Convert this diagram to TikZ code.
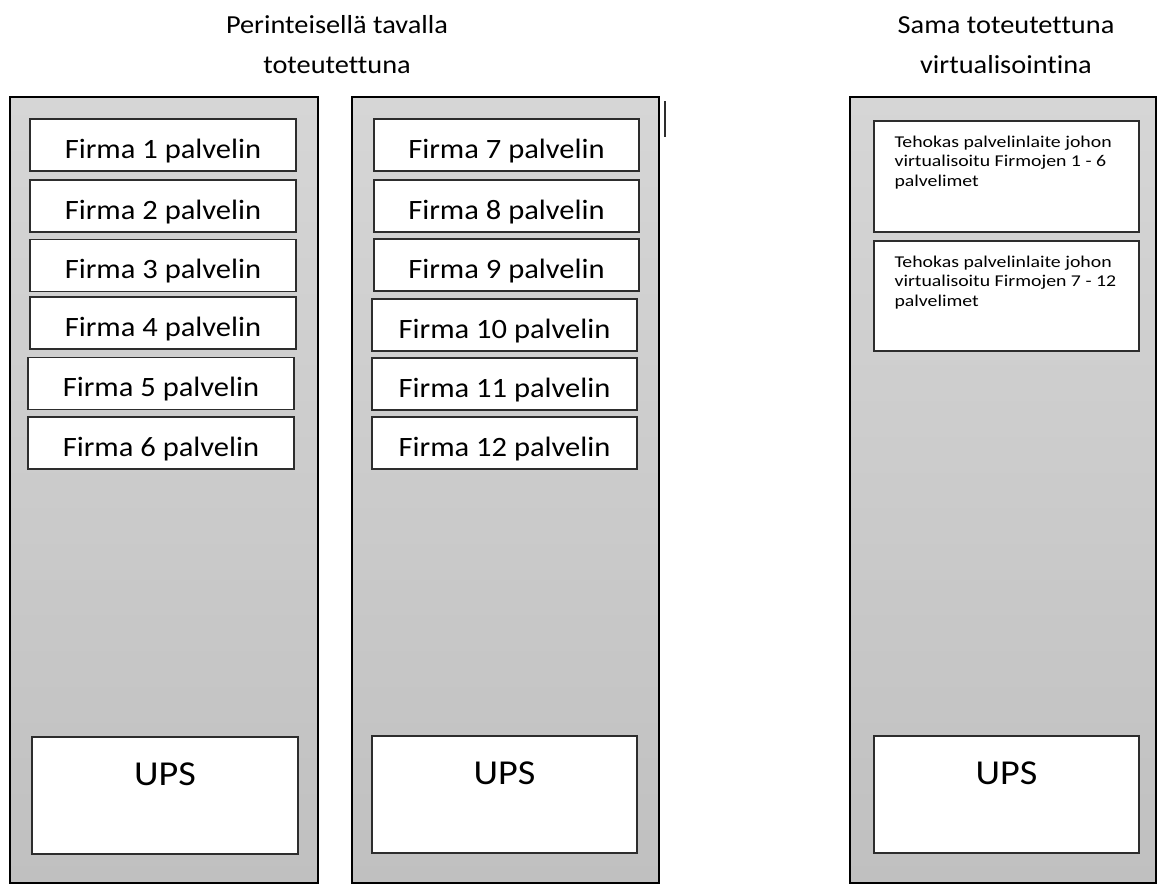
\documentclass[tikz,border=0pt]{standalone}
\usepackage{fontspec}
\setmainfont{Carlito}[FakeStretch=1.09,Ligatures=NoCommon]
\newfontfamily\widefont{Carlito}[FakeStretch=1.2,Ligatures=NoCommon]
\definecolor{racktop}{RGB}{214,214,214}
\definecolor{rackbottom}{RGB}{192,192,192}
\definecolor{boxline}{RGB}{45,45,45}

\begin{document}
\begin{tikzpicture}[x=1pt,y=-1pt,
    rack/.style={draw=black,line width=2.2pt,top color=racktop,bottom color=rackbottom,
      minimum height=786pt,inner sep=0pt},
    server/.style={draw=boxline,line width=1.3pt,fill=white,minimum height=52pt,inner sep=0pt,
      text height=26pt,text depth=0pt,font=\fontsize{28}{34}\selectfont},
    ups/.style={draw=boxline,line width=1.3pt,fill=white,minimum height=117pt,inner sep=0pt,
      text height=23pt,text depth=43pt,font=\fontsize{35}{42}\selectfont},
    vbox/.style={draw=boxline,line width=1.3pt,fill=white,minimum width=265pt,inner sep=0pt},
    vtext/.style={anchor=base west,inner sep=0pt,align=left,xshift=21pt,yshift=-66pt,
      font=\widefont\fontsize{16.5}{19.5}\selectfont},
    title/.style={anchor=base,align=center,font=\fontsize{26}{40}\selectfont}]

\useasboundingbox (0,0) rectangle (1159,884);

% titles
\node[title] (trad) at (337,73) {Perinteisellä tavalla\\toteutettuna};
\node[title] (virt) at (1006,73) {Sama toteutettuna\\virtualisointina};

% racks
\node[rack,minimum width=308pt] (rack1) at (164,490) {};
\node[rack,minimum width=307pt] (rack2) at (505.5,490) {};
\node[rack,minimum width=306pt] (rack3) at (1003,490) {};
\draw[line width=1.5pt,boxline] (665,101) -- (665,137);

% servers, first rack
\node[server,minimum width=266pt] (f1) at (163,145) {Firma 1 palvelin};
\node[server,minimum width=266pt] (f2) at (163,206) {Firma 2 palvelin};
\node[server,minimum width=266pt] (f3) at (163,265.5) {Firma 3 palvelin};
\node[server,minimum width=266pt] (f4) at (163,323) {Firma 4 palvelin};
\node[server,minimum width=266pt] (f5) at (161,383.5) {Firma 5 palvelin};
\node[server,minimum width=266pt] (f6) at (161,443) {Firma 6 palvelin};

% servers, second rack
\node[server,minimum width=265pt] (f7) at (506.5,145) {Firma 7 palvelin};
\node[server,minimum width=265pt] (f8) at (506.5,206) {Firma 8 palvelin};
\node[server,minimum width=265pt] (f9) at (506.5,265) {Firma 9 palvelin};
\node[server,minimum width=265pt] (f10) at (504.5,325) {Firma 10 palvelin};
\node[server,minimum width=265pt] (f11) at (504.5,384) {Firma 11 palvelin};
\node[server,minimum width=265pt] (f12) at (504.5,443) {Firma 12 palvelin};

% virtual hosts
\node[vbox,minimum height=111pt,
  label={[vtext]north west:Tehokas palvelinlaite johon\\virtualisoitu Firmojen 1 - 6\\palvelimet}]
  (v1) at (1006.5,176.5) {};
\node[vbox,minimum height=110pt,
  label={[vtext]north west:Tehokas palvelinlaite johon\\virtualisoitu Firmojen 7 - 12\\palvelimet}]
  (v2) at (1006.5,296) {};

% ups units
\node[ups,minimum width=266pt] (ups1) at (165,795.5) {UPS};
\node[ups,minimum width=265pt] (ups2) at (504.5,794.5) {UPS};
\node[ups,minimum width=265pt] (ups3) at (1006.5,794.5) {UPS};
\end{tikzpicture}
\end{document}
